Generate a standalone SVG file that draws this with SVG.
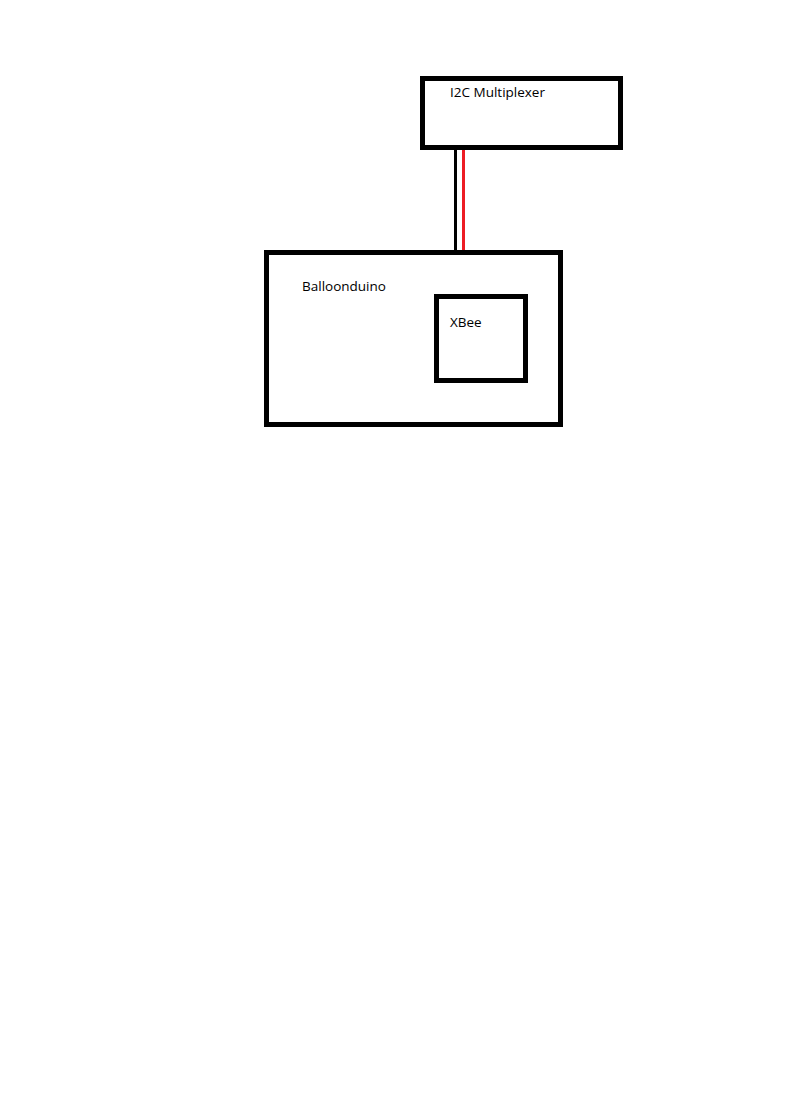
<svg xmlns="http://www.w3.org/2000/svg" width="811" height="1095" viewBox="0 0 811 1095">
<style>
.box{fill:none;stroke:#000;stroke-width:5}
.lbl{font-family:"Open Sans","Liberation Sans",sans-serif;font-size:13.5px;fill:#000}
</style>
<rect width="811" height="1095" fill="#fff"/>
<g id="connectors">
<line x1="455.5" y1="148" x2="455.5" y2="252" stroke="#000" stroke-width="3"/>
<line x1="463.5" y1="148" x2="463.5" y2="252" stroke="#ed1c24" stroke-width="3"/>
</g>
<g id="i2c-multiplexer">
<rect class="box" x="422.5" y="78.5" width="198" height="69"/>
<text class="lbl" x="450" y="97">I2C Multiplexer</text>
</g>
<g id="balloonduino">
<rect class="box" x="266.5" y="252.5" width="294" height="172"/>
<text class="lbl" x="302" y="291">Balloonduino</text>
</g>
<g id="xbee">
<rect class="box" x="436.5" y="296.5" width="89" height="84"/>
<text class="lbl" x="450" y="327">XBee</text>
</g>
</svg>
